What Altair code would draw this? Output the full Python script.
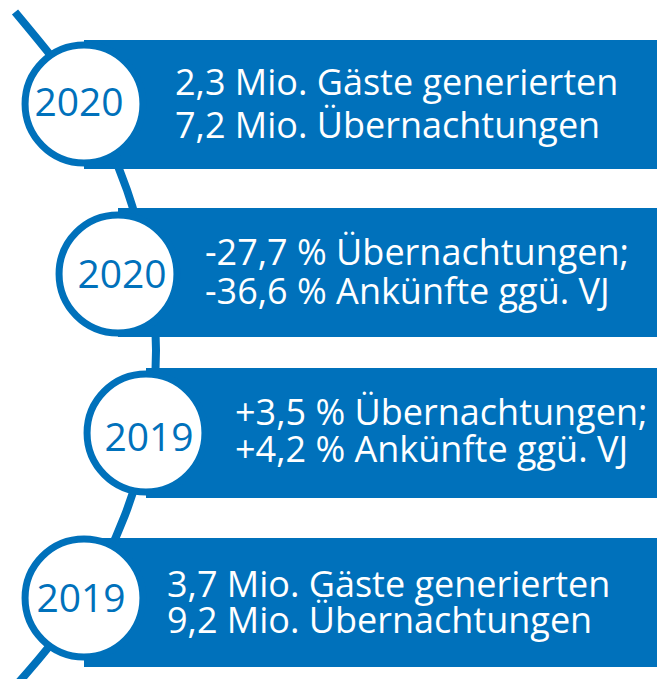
import altair as alt
import pandas as pd

BLUE = "#0071BB"
FONT = "Open Sans"

# Timeline path waypoints (screen pixel coordinates)
path_x = [15, 86, 127, 148, 156, 148, 125, 83, 38, 12]
path_y = [12, 104, 190, 270, 350, 433, 515, 600, 660, 690]

# Bands
band_top = [40, 208, 368, 538]
band_bottom = [169, 337, 498, 667]
band_right = [665, 665, 665, 665]

# Circles
circle_x = [84, 118, 146, 84]
circle_y = [104, 274, 433, 598]

# Year labels
years = ["2020", "2020", "2019", "2019"]
year_x = [79, 122, 149, 81]
year_y = [116, 288, 451, 612]

# Text lines
line1 = ["2,3 Mio. Gäste generierten", "-27,7 % Übernachtungen;",
         "+3,5 % Übernachtungen;", "3,7 Mio. Gäste generierten"]
line2 = ["7,2 Mio. Übernachtungen", "-36,6 % Ankünfte ggü. VJ",
         "+4,2 % Ankünfte ggü. VJ", "9,2 Mio. Übernachtungen"]
text_x = [175, 205, 235, 167]
line1_y = [95, 265, 425, 597]
line2_y = [138, 304, 462, 633]

W, H = 649, 671
xs = alt.Scale(domain=[8, 8 + W], range=[0, W], nice=False, zero=False)
ys = alt.Scale(domain=[8, 8 + H], nice=False, zero=False, reverse=True)

path_df = pd.DataFrame({"x": path_x, "y": path_y, "o": list(range(len(path_x)))})
band_df = pd.DataFrame({"x": circle_x, "x2": band_right, "y": band_top, "y2": band_bottom})
circ_df = pd.DataFrame({"x": circle_x, "y": circle_y})
year_df = pd.DataFrame({"x": year_x, "y": year_y, "t": years})
text_df = pd.DataFrame({
    "x": text_x * 2,
    "y": line1_y + line2_y,
    "t": line1 + line2,
})

line = alt.Chart(path_df).mark_line(
    color=BLUE, strokeWidth=8, interpolate="natural", strokeCap="butt"
).encode(
    x=alt.X("x:Q", scale=xs, axis=None),
    y=alt.Y("y:Q", scale=ys, axis=None),
    order="o:Q",
)

bands = alt.Chart(band_df).mark_rect(color=BLUE).encode(
    x=alt.X("x:Q", scale=xs, axis=None),
    x2="x2:Q",
    y=alt.Y("y:Q", scale=ys, axis=None),
    y2="y2:Q",
)

circles = alt.Chart(circ_df).mark_point(
    shape="circle", filled=False, fill="white", fillOpacity=1,
    stroke=BLUE, strokeWidth=7, opacity=1, size=13893
).encode(
    x=alt.X("x:Q", scale=xs, axis=None),
    y=alt.Y("y:Q", scale=ys, axis=None),
)

year_text = alt.Chart(year_df).mark_text(
    font=FONT, fontSize=39, color=BLUE, align="center", baseline="alphabetic"
).encode(
    x=alt.X("x:Q", scale=xs, axis=None),
    y=alt.Y("y:Q", scale=ys, axis=None),
    text="t:N",
)

body_text = alt.Chart(text_df).mark_text(
    font=FONT, fontSize=36, color="white", align="left", baseline="alphabetic"
).encode(
    x=alt.X("x:Q", scale=xs, axis=None),
    y=alt.Y("y:Q", scale=ys, axis=None),
    text="t:N",
)

chart = alt.layer(line, bands, circles, year_text, body_text).properties(
    width=W, height=H, padding=0,
    autosize=alt.AutoSizeParams(type="none"),
).configure_view(stroke=None)

chart.save("out.html", embed_options={"renderer": "svg", "actions": False})
